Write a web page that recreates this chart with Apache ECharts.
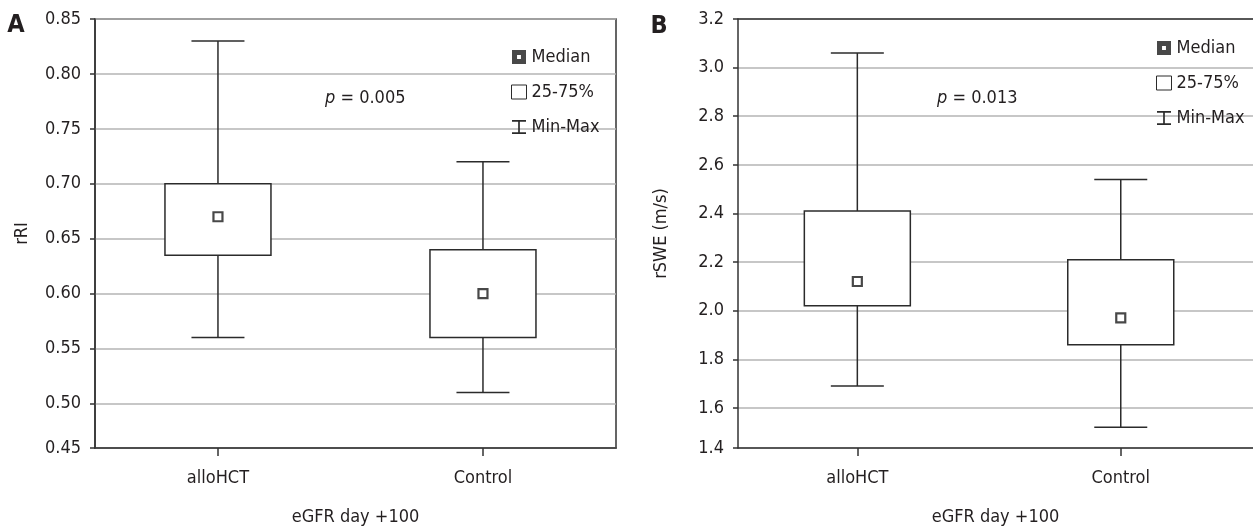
<!DOCTYPE html>
<html>
<head>
<meta charset="utf-8">
<style>
  html, body { margin: 0; padding: 0; background: #fff; }
  #chart { width: 1253px; height: 531px; }
</style>
<script src="https://cdn.jsdelivr.net/npm/echarts@6.0.0/dist/echarts.min.js"></script>
</head>
<body>
<div id="chart"></div>
<script>
// categories
const groups = ['alloHCT', 'Control'];

// panel A: rRI
const rriMin = [0.56, 0.51];
const rriQ1 = [0.635, 0.56];
const rriMedian = [0.67, 0.60];
const rriQ3 = [0.70, 0.64];
const rriMax = [0.83, 0.72];
const rriTickLabels = ['0.45', '0.50', '0.55', '0.60', '0.65', '0.70', '0.75', '0.80', '0.85'];

// panel B: rSWE (m/s)
const swMin = [1.69, 1.52];
const swQ1 = [2.02, 1.86];
const swMedian = [2.12, 1.97];
const swQ3 = [2.41, 2.21];
const swMax = [3.06, 2.54];
const swTickLabels = ['1.4', '1.6', '1.8', '2.0', '2.2', '2.4', '2.6', '2.8', '3.0', '3.2'];

const pValues = ['0.005', '0.013'];

const FONT = '"Liberation Sans Narrow", "DejaVu Sans Condensed", "Noto Sans", sans-serif';
const FS = 18;
const INK = '#231f20';
const LINE = '#2b2b2b';

const BOX_HALF = 53;   // px
const CAP_HALF = 26.5; // px

function renderWhisker(params, api) {
  const x = api.value(0);
  const lo = api.coord([x, api.value(1)]);
  const q1 = api.coord([x, api.value(2)]);
  const q3 = api.coord([x, api.value(4)]);
  const hi = api.coord([x, api.value(5)]);
  const style = { stroke: LINE, lineWidth: 1.5 };
  return {
    type: 'group',
    children: [
      { type: 'line', shape: { x1: hi[0], y1: hi[1], x2: q3[0], y2: q3[1] }, style },
      { type: 'line', shape: { x1: q1[0], y1: q1[1], x2: lo[0], y2: lo[1] }, style },
      { type: 'line', shape: { x1: hi[0] - CAP_HALF, y1: hi[1], x2: hi[0] + CAP_HALF, y2: hi[1] }, style },
      { type: 'line', shape: { x1: lo[0] - CAP_HALF, y1: lo[1], x2: lo[0] + CAP_HALF, y2: lo[1] }, style }
    ]
  };
}

function renderBox(params, api) {
  const x = api.value(0);
  const q1 = api.coord([x, api.value(2)]);
  const q3 = api.coord([x, api.value(4)]);
  return {
    type: 'rect',
    shape: { x: q3[0] - BOX_HALF, y: q3[1], width: BOX_HALF * 2, height: q1[1] - q3[1] },
    style: { fill: '#fff', stroke: LINE, lineWidth: 1.5 }
  };
}

const panels = [
  { min: rriMin, q1: rriQ1, med: rriMedian, q3: rriQ3, max: rriMax },
  { min: swMin, q1: swQ1, med: swMedian, q3: swQ3, max: swMax }
];

const series = [];
panels.forEach((p, k) => {
  const rows = groups.map((g, i) => [i, p.min[i], p.q1[i], p.med[i], p.q3[i], p.max[i]]);
  series.push({
    name: 'Min-Max', type: 'custom', xAxisIndex: k, yAxisIndex: k,
    renderItem: renderWhisker, encode: { x: 0, y: [1, 2, 3, 4, 5] },
    data: rows, z: 3, silent: true
  });
  series.push({
    name: '25-75%', type: 'custom', xAxisIndex: k, yAxisIndex: k,
    renderItem: renderBox, encode: { x: 0, y: [1, 2, 3, 4, 5] },
    data: rows, z: 4, silent: true
  });
  series.push({
    name: 'Median', type: 'scatter', xAxisIndex: k, yAxisIndex: k,
    symbol: 'rect', symbolSize: 9,
    itemStyle: { color: '#fff', borderColor: '#1a1a1a', borderWidth: 2.2 },
    data: groups.map((g, i) => [i, p.med[i]]), z: 5, silent: true
  });
});

const legendData = [
  { name: 'Median', icon: 'path://M0,0H10V10H0Z M3.6,3.6V6.4H6.4V3.6Z', itemStyle: { color: '#1a1a1a', borderWidth: 0 } },
  { name: '25-75%', icon: 'rect', itemStyle: { color: '#fff', borderColor: LINE, borderWidth: 1 } },
  { name: 'Min-Max', icon: 'path://M0,0H10V1.2H0Z M4.4,1.2H5.6V8.8H4.4Z M0,8.8H10V10H0Z', itemStyle: { color: LINE, borderWidth: 0 } }
];
function legendAt(left, top) {
  return {
    left, top, orient: 'vertical', selectedMode: false,
    itemWidth: 15, itemHeight: 14, itemGap: 15,
    textStyle: { fontFamily: FONT, fontSize: FS, color: INK, lineHeight: 20 },
    data: legendData
  };
}

function xAxisFor(k, min, max) {
  return {
    type: 'value', gridIndex: k, min, max,
    name: 'eGFR day +100', nameLocation: 'middle', nameGap: 60,
    nameTextStyle: { fontFamily: FONT, fontSize: FS, color: INK },
    axisLine: { show: true, onZero: false, lineStyle: { color: '#333', width: 1.5 } },
    axisTick: { show: true, length: 8, customValues: [0, 1], lineStyle: { color: '#333', width: 1.5 } },
    axisLabel: {
      customValues: [0, 1], margin: 21,
      fontFamily: FONT, fontSize: FS, color: INK,
      formatter: v => groups[Math.round(v)]
    },
    splitLine: { show: false }
  };
}

function yAxisFor(k, min, max, splitNumber, labels, name, nameGap) {
  return {
    type: 'value', gridIndex: k, min, max, splitNumber,
    name, nameLocation: 'middle', nameGap,
    nameTextStyle: { fontFamily: FONT, fontSize: FS, color: INK },
    axisLine: { show: true, onZero: false, lineStyle: { color: '#333', width: 1.5 } },
    axisTick: { show: true, length: 5, lineStyle: { color: '#333', width: 1.5 } },
    axisLabel: {
      margin: 14, fontFamily: FONT, fontSize: FS, color: INK,
      formatter: (v, i) => labels[i]
    },
    splitLine: { show: true, lineStyle: { color: '#b4b4b4', width: 1.5 } }
  };
}

function pText(x, y, val) {
  return {
    type: 'text', x, y,
    style: {
      text: '{i|p} = ' + val,
      fontFamily: FONT, fontSize: FS, fill: INK, verticalAlign: 'middle',
      rich: { i: { fontStyle: 'italic', fontFamily: FONT, fontSize: FS, fill: INK } }
    }
  };
}
function letter(x, y, t) {
  return {
    type: 'text', x, y,
    style: { text: t, fontFamily: FONT, fontSize: 25, fontWeight: 'bold', fill: INK, align: 'center', verticalAlign: 'middle' }
  };
}

const chart = echarts.init(document.getElementById('chart'), null, { renderer: 'canvas' });
chart.setOption({
  backgroundColor: '#fff',
  animation: false,
  grid: [
    { left: 95, top: 19, width: 521, height: 434, show: true, borderColor: '#333', borderWidth: 1.5, backgroundColor: 'transparent' },
    // panel B runs off the right edge: no right border, top frame drawn by a top axis line
    { left: 738, top: 19, width: 516, height: 435, show: false }
  ],
  xAxis: [
    xAxisFor(0, -0.464, 1.502),
    xAxisFor(1, -0.453, 1.502),
    {
      type: 'value', gridIndex: 1, position: 'top', min: -0.453, max: 1.502,
      axisLine: { show: true, onZero: false, lineStyle: { color: '#333', width: 1.5 } },
      axisTick: { show: false }, axisLabel: { show: false }, splitLine: { show: false }
    }
  ],
  yAxis: [
    yAxisFor(0, 0.4595, 0.85, 8, rriTickLabels, 'rRI', 64),
    yAxisFor(1, 1.435, 3.2, 9, swTickLabels, 'rSWE (m/s)', 68)
  ],
  legend: [legendAt(506, 42), legendAt(1151, 33)],
  graphic: [
    letter(16, 25, 'A'),
    letter(659, 26, 'B'),
    pText(325, 98, pValues[0]),
    pText(937, 98, pValues[1])
  ],
  series
});
</script>
</body>
</html>
